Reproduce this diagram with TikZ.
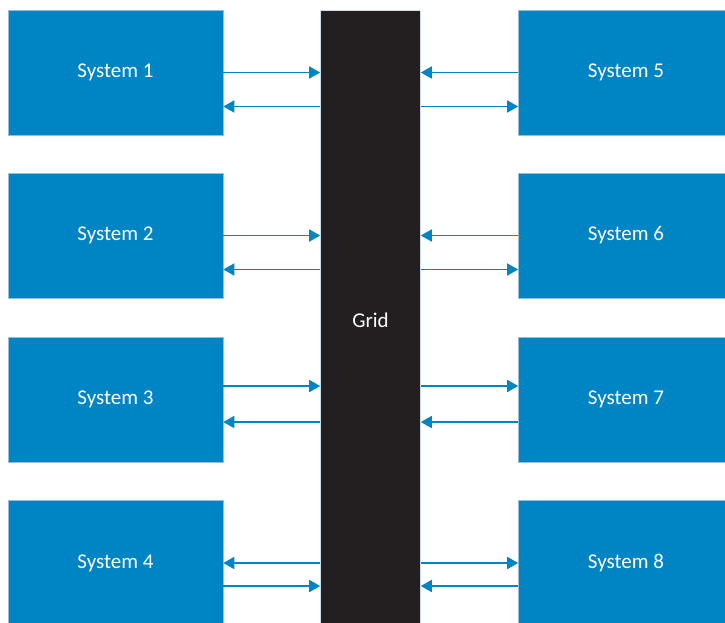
\documentclass[tikz,border=0pt]{standalone}
\usepackage{fontspec}
\setmainfont{Carlito}
\usetikzlibrary{arrows.meta, positioning}
\definecolor{sysblue}{RGB}{0,133,196}
\definecolor{sysedge}{RGB}{150,190,215}
\definecolor{gridblack}{RGB}{35,31,32}

\begin{document}
\begin{tikzpicture}[x=1pt, y=-1pt,
		system/.style={fill=sysblue, draw=sysedge, line width=0.6pt, minimum width=215pt, minimum height=125pt, text=white, font=\fontsize{21}{24}\selectfont},
		gridbar/.style={fill=gridblack, draw=sysedge!50!white, line width=0.6pt, minimum width=100pt, minimum height=620pt, text=white, font=\fontsize{21}{24}\selectfont},
		link/.style={draw=sysblue, line width=1.7pt, -{Triangle[length=11pt,width=12pt]}}]
		\useasboundingbox (0,0) rectangle (725,622);
		\clip (0,0) rectangle (725,622);

		% Grid
		\node[gridbar] (grid) at (370.5,320) {Grid};

		% Systems on the left
		\node[system] (s1) at (115.5,72.5) {System 1};
		\node[system] (s2) at (115.5,235.5) {System 2};
		\node[system] (s3) at (115.5,399.5) {System 3};
		\node[system] (s4) at (115.5,563) {System 4};

		% Systems on the right
		\node[system] (s5) at (626,72.5) {System 5};
		\node[system] (s6) at (626,235.5) {System 6};
		\node[system] (s7) at (626,399.5) {System 7};
		\node[system] (s8) at (626,563) {System 8};

		% Row 1
		\draw[link] (s1.east) -- (s1.east -| grid.west);
		\draw[link] ([yshift=-34pt]s1.east -| grid.west) -- ([yshift=-34pt]s1.east);
		\draw[link] (s5.west) -- (s5.west -| grid.east);
		\draw[link] ([yshift=-34pt]s5.west -| grid.east) -- ([yshift=-34pt]s5.west);

		% Row 2
		\draw[link] (s2.east) -- (s2.east -| grid.west);
		\draw[link] ([yshift=-34pt]s2.east -| grid.west) -- ([yshift=-34pt]s2.east);
		\draw[link] (s6.west) -- (s6.west -| grid.east);
		\draw[link] ([yshift=-34pt]s6.west -| grid.east) -- ([yshift=-34pt]s6.west);

		% Row 3
		\draw[link] ([yshift=13.5pt]s3.east) -- ([yshift=13.5pt]s3.east -| grid.west);
		\draw[link] ([yshift=-22.5pt]s3.east -| grid.west) -- ([yshift=-22.5pt]s3.east);
		\draw[link] ([yshift=13.5pt]s7.west -| grid.east) -- ([yshift=13.5pt]s7.west);
		\draw[link] ([yshift=-22.5pt]s7.west) -- ([yshift=-22.5pt]s7.west -| grid.east);

		% Row 4
		\draw[link] (s4.east -| grid.west) -- (s4.east);
		\draw[link] ([yshift=-23pt]s4.east) -- ([yshift=-23pt]s4.east -| grid.west);
		\draw[link] (s8.west -| grid.east) -- (s8.west);
		\draw[link] ([yshift=-23pt]s8.west) -- ([yshift=-23pt]s8.west -| grid.east);
	\end{tikzpicture}
\end{document}
